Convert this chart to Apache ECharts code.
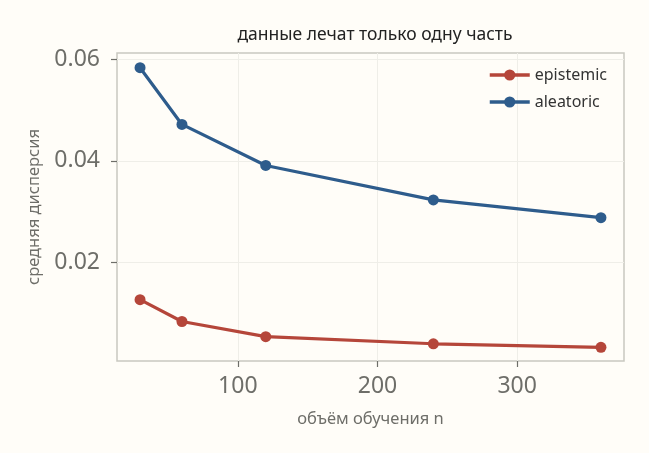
<!DOCTYPE html>
<html>
<head>
<meta charset="utf-8">
<script src="https://cdn.jsdelivr.net/npm/echarts@6/dist/echarts.min.js"></script>
<style>
  html,body{margin:0;padding:0;background:#fffdf8;}
  #chart{width:649px;height:453px;}
</style>
</head>
<body>
<div id="chart"></div>
<script>
// данные
var sampleSizes = [30, 60, 120, 240, 360];
var epistemic = [0.0126, 0.0083, 0.0053, 0.0039, 0.0032];
var aleatoric = [0.0584, 0.0472, 0.0391, 0.0323, 0.0288];
var xTicks = [100, 200, 300];
var yTicks = [0.02, 0.04, 0.06];

var myChart = echarts.init(document.getElementById('chart'));

function pairs(xs, ys){
    var out = [];
    for (var i = 0; i < xs.length; i++) {
        out.push([xs[i], ys[i]]);
    }
    return out;
}

var fontName = 'Noto Sans';
var greyText = '#6e6e69';

var option = {
    backgroundColor: '#fffdf8',
    textStyle: { fontFamily: fontName },
    title: {
        text: 'данные лечат только одну часть',
        left: 370, top: 21, textAlign: 'center',
        textStyle: { fontSize: 17.5, fontWeight: 'normal', color: '#222', fontFamily: fontName }
    },
    legend: {
        orient: 'vertical',
        left: 483, top: 62,
        itemWidth: 40, itemHeight: 14,
        itemGap: 11,
        lineStyle: { width: 3.5 },
        textStyle: { fontSize: 16, color: '#333', fontFamily: fontName },
        data: ['epistemic', 'aleatoric']
    },
    grid: {
        left: 117, top: 53, right: 25, bottom: 92,
        show: true,
        borderColor: '#c9c8c0',
        borderWidth: 1.5,
        backgroundColor: '#fffdf8'
    },
    xAxis: {
        type: 'value',
        min: 13.5, max: 376.5,
        name: 'объём обучения n',
        nameLocation: 'middle',
        nameGap: 50,
        nameTextStyle: { fontSize: 16.5, color: greyText },
        axisLine: { show: false },
        axisTick: { show: true, length: 6, customValues: xTicks, lineStyle: { color: '#6e6e69', width: 1.2 } },
        axisLabel: { customValues: xTicks, fontSize: 23, color: greyText, margin: 14 },
        splitLine: { show: true, lineStyle: { color: '#efeee8', width: 1 } }
    },
    yAxis: {
        type: 'value',
        min: 0.0005, max: 0.0613,
        name: 'средняя дисперсия',
        nameLocation: 'middle',
        nameGap: 74,
        nameTextStyle: { fontSize: 16.5, color: greyText },
        axisLine: { show: false },
        axisTick: { show: true, length: 6, customValues: yTicks, lineStyle: { color: '#6e6e69', width: 1.2 } },
        axisLabel: { customValues: yTicks, fontSize: 23, color: greyText, margin: 17,
            formatter: function (v) { return v.toFixed(2); } },
        splitLine: { show: true, lineStyle: { color: '#efeee8', width: 1 } }
    },
    series: [
        {
            name: 'epistemic',
            type: 'line',
            data: pairs(sampleSizes, epistemic),
            symbol: 'circle', symbolSize: 11,
            lineStyle: { width: 3.2, color: '#b5463a' },
            itemStyle: { color: '#b5463a' },
            animation: false
        },
        {
            name: 'aleatoric',
            type: 'line',
            data: pairs(sampleSizes, aleatoric),
            symbol: 'circle', symbolSize: 11,
            lineStyle: { width: 3.2, color: '#2e5c8c' },
            itemStyle: { color: '#2e5c8c' },
            animation: false
        }
    ]
};
myChart.setOption(option);
</script>
</body>
</html>
